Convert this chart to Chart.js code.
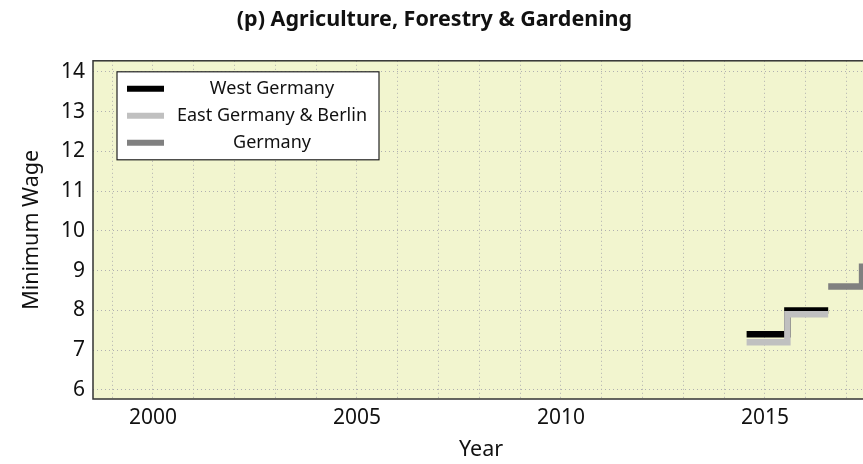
<!DOCTYPE html>
<html>
<head>
<meta charset="utf-8">
<script src="https://cdn.jsdelivr.net/npm/chart.js@4/dist/chart.umd.min.js"></script>
<style>
  html, body { margin: 0; padding: 0; background: #fff; overflow: hidden; }
  #wrap { width: 872px; height: 464px; }
</style>
</head>
<body>
<div id="wrap"><canvas id="wageChart" width="872" height="464"></canvas></div>
<script>
// step data (x = year, y = minimum wage)
var westYears = [2014.55, 2015.55, 2016.55];
var westWage = [7.4, 8.0, 8.0];
var eastYears = [2014.55, 2015.55, 2016.55];
var eastWage = [7.2, 7.9, 7.9];
var germanyYears = [2016.55, 2017.38, 2017.9];
var germanyWage = [8.6, 9.1, 9.1];

var seriesLabels = ['West Germany', 'East Germany & Berlin', 'Germany'];
var seriesColors = ['#000000', '#c0c0c0', '#808080'];

var xRange = [1998.53, 2017.55];
var yRange = [5.77, 14.28];
var xLabelEvery = 5;

var FONT = "'Noto Sans', sans-serif";

function toPoints(xs, ys) {
    return xs.map(function (x, i) { return { x: x, y: ys[i] }; });
}

// yellow plot background + frame
var plotBackground = {
    id: 'plotBackground',
    beforeDraw: function (chart) {
        var a = chart.chartArea, ctx = chart.ctx;
        ctx.save();
        ctx.fillStyle = '#f2f5cf';
        ctx.fillRect(a.left, a.top, a.right - a.left, a.bottom - a.top);
        ctx.restore();
    },
    afterDatasetsDraw: function (chart) {
        var a = chart.chartArea, ctx = chart.ctx;
        ctx.save();
        ctx.strokeStyle = '#333333';
        ctx.lineWidth = 1.5;
        ctx.strokeRect(a.left, a.top, a.right - a.left, a.bottom - a.top);
        ctx.restore();
    }
};

// boxed legend with centred labels
var boxLegend = {
    id: 'boxLegend',
    afterDraw: function (chart) {
        var a = chart.chartArea, ctx = chart.ctx;
        var x0 = a.left + 24, y0 = a.top + 11, w = 262, h = 88;
        ctx.save();
        ctx.fillStyle = '#ffffff';
        ctx.fillRect(x0, y0, w, h);
        ctx.strokeStyle = '#222222';
        ctx.lineWidth = 1.2;
        ctx.strokeRect(x0, y0, w, h);
        ctx.font = '18px ' + FONT;
        ctx.textAlign = 'center';
        ctx.textBaseline = 'middle';
        chart.data.datasets.forEach(function (ds, i) {
            var yy = y0 + 17 + i * 27;
            ctx.strokeStyle = ds.borderColor;
            ctx.lineWidth = 6;
            ctx.beginPath();
            ctx.moveTo(x0 + 10, yy);
            ctx.lineTo(x0 + 47, yy);
            ctx.stroke();
            ctx.fillStyle = '#111111';
            ctx.fillText(ds.label, x0 + 155, yy);
        });
        ctx.restore();
    }
};

var ctx = document.getElementById('wageChart');
var wageChart = new Chart(ctx, {
    type: 'line',
    data: {
        datasets: [
            { label: seriesLabels[0], data: toPoints(westYears, westWage), borderColor: seriesColors[0], order: 2 },
            { label: seriesLabels[1], data: toPoints(eastYears, eastWage), borderColor: seriesColors[1], order: 1 },
            { label: seriesLabels[2], data: toPoints(germanyYears, germanyWage), borderColor: seriesColors[2], order: 0 }
        ]
    },
    options: {
        responsive: false,
        animation: false,
        devicePixelRatio: 1,
        layout: { padding: { left: 0, right: 3, top: 0, bottom: 0 } },
        elements: {
            line: { borderWidth: 6.5, stepped: 'before', fill: false, tension: 0 },
            point: { radius: 0, hoverRadius: 0 }
        },
        plugins: {
            legend: { display: false },
            tooltip: { enabled: false },
            title: {
                display: true,
                text: '(p) Agriculture, Forestry & Gardening',
                color: '#111111',
                font: { family: FONT, size: 21.5, weight: 'bold' },
                padding: { top: 7, bottom: 28 }
            }
        },
        scales: {
            x: {
                type: 'linear',
                min: xRange[0],
                max: xRange[1],
                border: { display: false, dash: [1, 3] },
                grid: { color: '#b0b0b0', lineWidth: 1, drawTicks: false },
                ticks: {
                    stepSize: 1,
                    includeBounds: false,
                    autoSkip: false,
                    maxRotation: 0,
                    padding: 6,
                    color: '#111111',
                    font: { family: FONT, size: 21 },
                    callback: function (v) { return v % xLabelEvery === 0 ? String(v) : ''; }
                },
                title: {
                    display: true,
                    text: 'Year',
                    color: '#111111',
                    font: { family: FONT, size: 21.5 },
                    padding: { top: 0, bottom: 1 }
                },
                afterFit: function (scale) { scale.height = 65; }
            },
            y: {
                min: yRange[0],
                max: yRange[1],
                border: { display: false, dash: [1, 3] },
                grid: { color: '#b0b0b0', lineWidth: 1, drawTicks: false },
                ticks: {
                    stepSize: 1,
                    includeBounds: false,
                    padding: 8,
                    color: '#111111',
                    font: { family: FONT, size: 21 }
                },
                title: {
                    display: true,
                    text: 'Minimum Wage',
                    color: '#111111',
                    font: { family: FONT, size: 21.5 },
                    padding: { top: 19, bottom: 0 }
                },
                afterFit: function (scale) { scale.width = 93; }
            }
        }
    },
    plugins: [plotBackground, boxLegend]
});
</script>
</body>
</html>
